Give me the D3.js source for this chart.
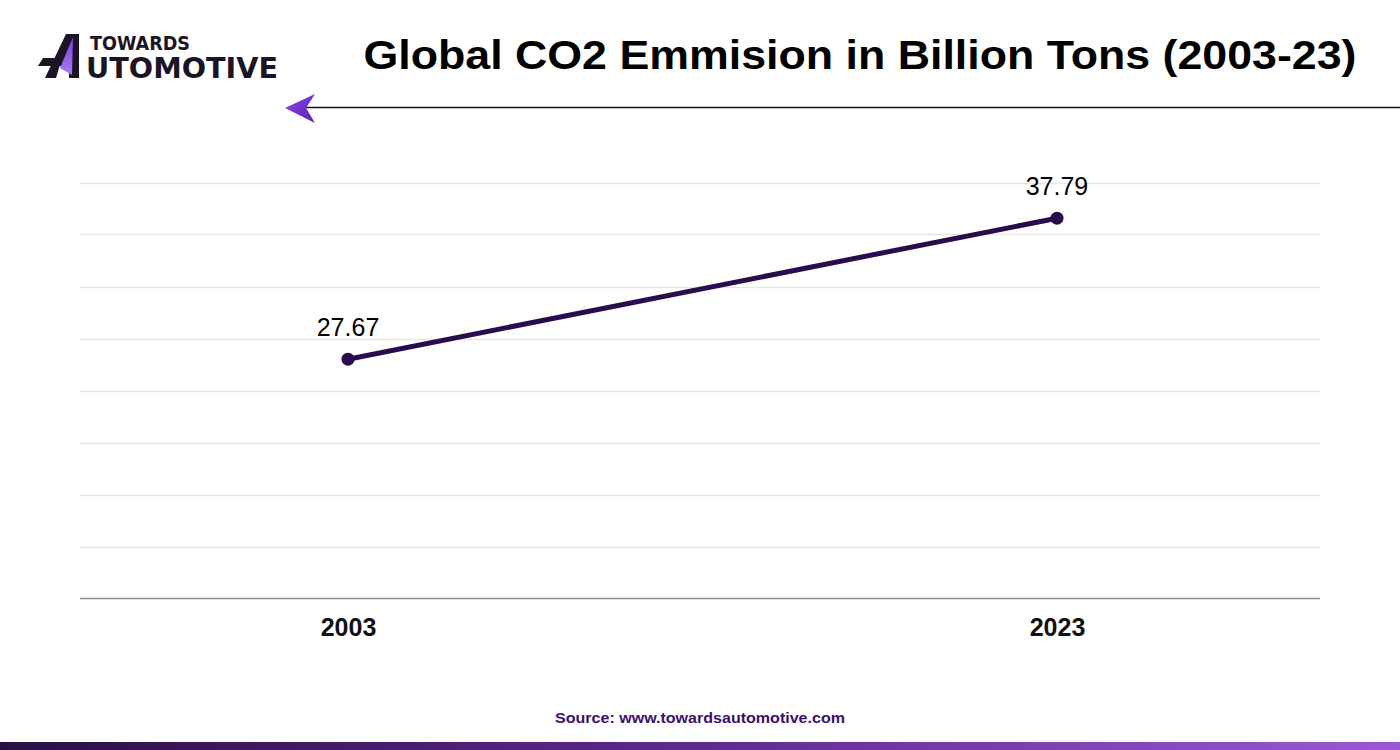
<!DOCTYPE html>
<html>
<head>
<meta charset="utf-8">
<script src="https://cdn.jsdelivr.net/npm/d3@7"></script>
<style>
  html, body { margin: 0; padding: 0; background: #fff; }
  svg { display: block; }
</style>
</head>
<body>
<svg id="chart" width="1400" height="750"></svg>
<script>
// ---- data ----
const years = ["2003", "2023"];
const emissions = [27.67, 37.79];
const valueLabels = ["27.67", "37.79"];
const gridCount = 8;
const titleText = "Global CO2 Emmision in Billion Tons (2003-23)";
const sourceText = "Source: www.towardsautomotive.com";

const svg = d3.select("#chart");
const W = 1400, H = 750;
const plot = { left: 80, right: 1320, top: 182.5, bottom: 598.5 };

const defs = svg.append("defs");
const bar = defs.append("linearGradient").attr("id", "barGrad")
  .attr("x1", "0%").attr("x2", "100%").attr("y1", "0%").attr("y2", "0%");
bar.append("stop").attr("offset", "0%").attr("stop-color", "#2a0f45");
bar.append("stop").attr("offset", "50%").attr("stop-color", "#5e2a90");
bar.append("stop").attr("offset", "100%").attr("stop-color", "#9b57d9");
const arrowG = defs.append("linearGradient").attr("id", "arrowGrad")
  .attr("x1", "0%").attr("x2", "100%").attr("y1", "0%").attr("y2", "100%");
arrowG.append("stop").attr("offset", "0%").attr("stop-color", "#8a45e6");
arrowG.append("stop").attr("offset", "100%").attr("stop-color", "#5a22b8");
const logoG = defs.append("linearGradient").attr("id", "logoGrad")
  .attr("x1", "0%").attr("x2", "0%").attr("y1", "0%").attr("y2", "100%");
logoG.append("stop").attr("offset", "0%").attr("stop-color", "#7b3fe0");
logoG.append("stop").attr("offset", "100%").attr("stop-color", "#a978f0");

// ---- scales ----
const x = d3.scalePoint().domain(years).range([plot.left + 3, plot.right + 2]).padding(0.3738);
const y = d3.scaleLinear().domain([10.5, 40.35]).range([plot.bottom, plot.top]);

// gridlines
const [d0, d1] = y.domain();
const gridVals = d3.range(1, gridCount + 1).map(i => d0 + i * (d1 - d0) / gridCount);
svg.append("g").selectAll("line").data(gridVals).join("line")
  .attr("x1", plot.left).attr("x2", plot.right)
  .attr("y1", d => Math.round(y(d)) + 0.5).attr("y2", d => Math.round(y(d)) + 0.5)
  .attr("stroke", "#e6e6e6").attr("stroke-width", 1.3);

// x axis
const xAxis = svg.append("g").attr("transform", `translate(0,${plot.bottom})`)
  .call(d3.axisBottom(x).tickSize(0).tickPadding(20));
xAxis.select(".domain").attr("stroke", "#8c8c8c").attr("stroke-width", 1.6)
  .attr("d", `M${plot.left},0H${plot.right}`);
xAxis.selectAll("text").attr("font-family", "Liberation Sans, Arial, sans-serif")
  .attr("font-weight", "bold").attr("font-size", 25).attr("fill", "#111")
  .attr("dy", "0.71em");

// line
const pts = years.map((yr, i) => ({ yr, v: emissions[i], label: valueLabels[i] }));
svg.append("path").datum(pts)
  .attr("d", d3.line().x(d => x(d.yr)).y(d => y(d.v)))
  .attr("fill", "none").attr("stroke", "#2a0b4d").attr("stroke-width", 5)
  .attr("stroke-linecap", "round");
svg.append("g").selectAll("circle").data(pts).join("circle")
  .attr("cx", d => x(d.yr)).attr("cy", d => y(d.v)).attr("r", 6.5)
  .attr("fill", "#2a0b4d");
svg.append("g").selectAll("text").data(pts).join("text")
  .attr("x", d => x(d.yr)).attr("y", d => y(d.v) - 23)
  .attr("text-anchor", "middle")
  .attr("font-family", "Liberation Sans, Arial, sans-serif")
  .attr("font-size", 25).attr("fill", "#000")
  .text(d => d.label);

// title
svg.append("text").attr("x", 860).attr("y", 69).attr("text-anchor", "middle")
  .attr("font-family", "Liberation Sans, Arial, sans-serif").attr("font-weight", "bold")
  .attr("font-size", 40).attr("fill", "#000")
  .attr("textLength", 993).attr("lengthAdjust", "spacingAndGlyphs")
  .text(titleText);

// header rule with arrow
svg.append("line").attr("x1", 306).attr("x2", 1400).attr("y1", 107.5).attr("y2", 107.5)
  .attr("stroke", "#111").attr("stroke-width", 1.6);
svg.append("path").attr("d", "M285,108 L315,94 L306,108 L315,123 Z")
  .attr("fill", "url(#arrowGrad)");

// logo
const logo = svg.append("g");
logo.append("path").attr("d", "M66,34 L79,34 L79,78 L69,78 L69,66 L38,66 L43,58 L62,58 L56,78 L45,78 Z")
  .attr("fill", "#1a1424");
logo.append("path").attr("d", "M73,37 L60,68 L72,75 Z").attr("fill", "url(#logoGrad)");
logo.append("text").attr("x", 90).attr("y", 49.5)
  .attr("font-family", "DejaVu Sans, sans-serif").attr("font-weight", "bold")
  .attr("font-size", 19).attr("fill", "#1a1424")
  .attr("textLength", 100).attr("lengthAdjust", "spacingAndGlyphs").text("TOWARDS");
logo.append("text").attr("x", 86).attr("y", 78)
  .attr("font-family", "DejaVu Sans, sans-serif").attr("font-weight", "bold")
  .attr("font-size", 29).attr("fill", "#1a1424")
  .attr("textLength", 192).attr("lengthAdjust", "spacingAndGlyphs").text("UTOMOTIVE");

// source
svg.append("text").attr("x", 700).attr("y", 723).attr("text-anchor", "middle")
  .attr("font-family", "Liberation Sans, Arial, sans-serif").attr("font-weight", "bold")
  .attr("font-size", 15).attr("fill", "#3b0f6e")
  .attr("textLength", 290).attr("lengthAdjust", "spacingAndGlyphs")
  .text(sourceText);

// bottom bar
svg.append("rect").attr("x", 0).attr("y", 742).attr("width", W).attr("height", 8)
  .attr("fill", "url(#barGrad)");
</script>
</body>
</html>
